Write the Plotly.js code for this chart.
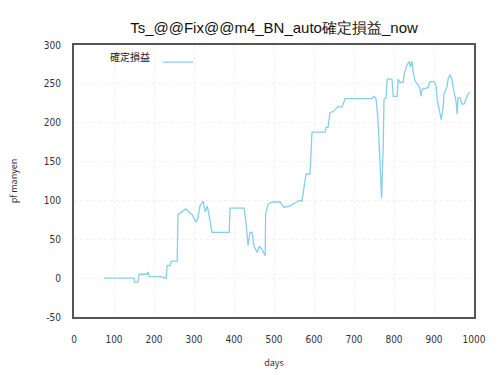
<!DOCTYPE html>
<html>
<head>
<meta charset="utf-8">
<script src="https://cdn.plot.ly/plotly-3.0.1.min.js"></script>
<style>html,body{margin:0;padding:0;background:#fff;}#chart{width:500px;height:375px;}</style>
</head>
<body>
<div id="chart"></div>
<script>
const days = [75,150,151,160,163,183,185,188,215,228,230,233,240,243,258,260,270,280,285,295,305,310,315,323,328,333,338,345,388,390,425,430,435,440,445,450,458,463,470,478,479,485,495,515,525,540,553,565,570,573,580,590,595,628,630,635,640,650,660,670,678,745,750,755,760,765,769,773,775,780,783,795,798,808,810,815,823,825,833,838,841,845,848,853,860,864,868,870,885,890,900,905,908,913,918,923,925,933,935,940,945,948,950,955,958,960,965,970,975,980,985,990];
const profit = [0,0,-5,-5,5,5,8,2,2,0,0,16,16,22,22,82,85,89,86,82,72,78,93,99,85,93,80,59,59,90,90,72,42,59,59,41,33,41,37,29,82,95,98,98,91,93,97,100,99,108,134,134,188,188,194,194,213,215,221,220,231,231,234,231,204,149,103,170,230,232,256,256,234,234,256,252,252,262,275,279,272,279,265,253,249,245,234,243,245,253,253,247,230,217,204,220,237,247,256,262,256,245,239,228,211,232,232,224,224,232,237,239];
const seriesName = "確定損益";
const chartTitle = "Ts_@@Fix@@m4_BN_auto確定損益_now";
const xTicks = [0,100,200,300,400,500,600,700,800,900,1000];
const yTicks = [-50,0,50,100,150,200,250,300];

const tickFont = {family: "Liberation Sans Narrow, Arial Narrow, DejaVu Sans Condensed, sans-serif", size: 10, color: "#333"};

const trace = {
  x: days, y: profit, type: "scatter", mode: "lines",
  name: " ",
  line: {color: "#87ceeb", width: 1.3},
  showlegend: true
};

const layout = {
  width: 500, height: 375,
  margin: {l: 74, r: 26, t: 45, b: 58},
  paper_bgcolor: "#fff", plot_bgcolor: "#fff",
  title: {text: chartTitle, x: 0.548, xanchor: "center", y: 0.925, yanchor: "middle",
          font: {family: "Liberation Sans, Arial, sans-serif", size: 15, color: "#111"}},
  xaxis: {
    range: [0, 1000], tickvals: xTicks, ticktext: xTicks.map(String),
    showgrid: true, gridcolor: "#f0f0f0", griddash: "dot", gridwidth: 1,
    zeroline: false, showline: true, linecolor: "#555", linewidth: 2, mirror: true,
    ticks: "", tickfont: tickFont, ticklabelstandoff: 12,
    title: {text: "days", standoff: 16, font: {family: "Noto Sans CJK JP, sans-serif", size: 9, color: "#333"}},
    automargin: false
  },
  yaxis: {
    range: [-50, 300], tickvals: yTicks, ticktext: yTicks.map(String),
    showgrid: true, gridcolor: "#f0f0f0", griddash: "dot", gridwidth: 1,
    zeroline: false, showline: true, linecolor: "#555", linewidth: 2, mirror: true,
    ticks: "", tickfont: tickFont, ticklabelstandoff: 9,
    title: {text: "pf manyen", standoff: 25, font: {family: "Noto Sans CJK JP, sans-serif", size: 9, color: "#333"}},
    automargin: false
  },
  showlegend: true,
  legend: {
    x: 0.085, y: 0.99, xanchor: "left", yanchor: "top",
    bgcolor: "rgba(0,0,0,0)", borderwidth: 0,
    font: {family: "Noto Sans CJK JP, sans-serif", size: 10, color: "#222"},
    title: {text: seriesName, side: "left", font: {family: "Noto Sans CJK JP, sans-serif", size: 10, color: "#222"}}
  }
};

Plotly.newPlot("chart", [trace], layout, {displayModeBar: false, staticPlot: true});
</script>
</body>
</html>
